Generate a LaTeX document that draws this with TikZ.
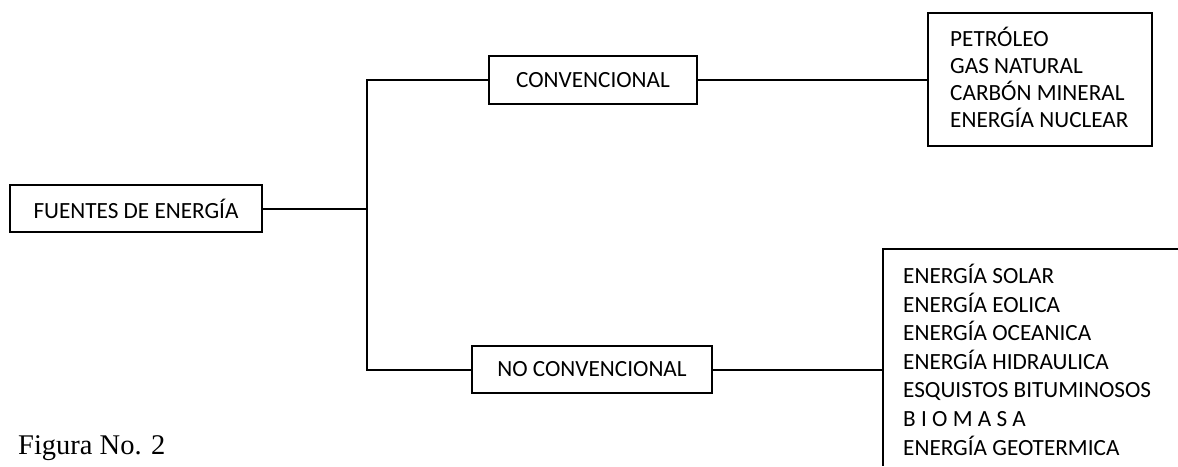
\documentclass[tikz,border=0pt]{standalone}
\usepackage{fontspec}
\setmainfont{Carlito}
\newfontfamily\serifcap{Liberation Serif}
\begin{document}
\begin{tikzpicture}[x=1pt,y=-1pt,
  box/.style={draw,line width=2pt,inner sep=0pt,font=\fontsize{23.2}{27}\selectfont},
  conn/.style={line width=2pt},
  listtext/.style={inner sep=0pt,align=left,anchor=base west}]
\useasboundingbox (0,0) rectangle (1178,466);
\node[box,minimum width=252,minimum height=47] (fuentes) at (136,208.5) {FUENTES DE ENERGÍA};
\node[box,minimum width=208,minimum height=48] (conv) at (593,80) {CONVENCIONAL};
\node[box,minimum width=240,minimum height=47] (noconv) at (592,369.5) {NO CONVENCIONAL};
\node[draw,line width=2pt,minimum width=224,minimum height=133,inner sep=0pt] (convlist) at (1040,79.5) {};
\node[listtext,font=\fontsize{23.2}{27}\selectfont] (convtext) at (950,127) {PETRÓLEO\\GAS NATURAL\\CARBÓN MINERAL\\ENERGÍA NUCLEAR};
\coordinate (ncl) at (883,249);
\coordinate (nctr) at (1178,249);
\coordinate (ncbl) at (883,466);
\coordinate (ncin) at (883,369.5);
\draw[conn] (nctr) -- (ncl) -- (ncbl);
\node[listtext,font=\fontsize{23.2}{28.6}\selectfont] (noconvtext) at (903,455) {ENERGÍA SOLAR\\ENERGÍA EOLICA\\ENERGÍA OCEANICA\\ENERGÍA HIDRAULICA\\ESQUISTOS BITUMINOSOS\\B I O M A S A\\ENERGÍA GEOTERMICA};
\coordinate (trunk) at (367,208.5);
\draw[conn] (fuentes.east) -- (trunk);
\draw[conn] (conv.west) -| (trunk) |- (noconv.west);
\draw[conn] (conv.east) -- (conv.east -| convlist.west);
\draw[conn] (noconv.east) -- (ncin);
\node[inner sep=0pt,anchor=base west,font=\serifcap\fontsize{28.5}{30}\selectfont] (fig) at (18,454) {Figura No. 2};
\end{tikzpicture}
\end{document}
